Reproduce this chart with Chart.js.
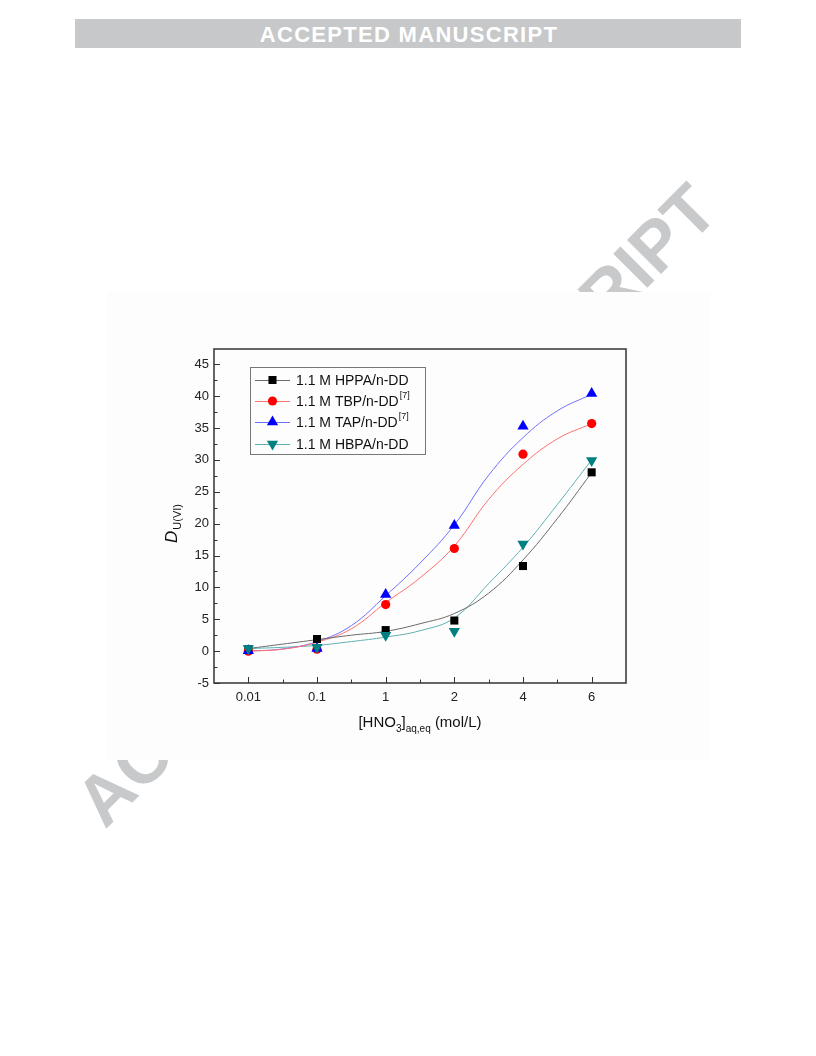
<!DOCTYPE html>
<html>
<head>
<meta charset="utf-8">
<script src="https://cdn.jsdelivr.net/npm/chart.js@4.4.1/dist/chart.umd.min.js"></script>
<style>
 body{margin:0;background:#fff;width:816px;height:1056px;position:relative;overflow:hidden;font-family:"Liberation Sans",Arial,sans-serif;}
 #page{position:absolute;left:0;top:0;}
 #box{position:absolute;left:107px;top:292px;width:603px;height:468px;background:#fdfdfd;}
</style>
</head>
<body>
<svg id="page" width="816" height="1056">
 <rect x="75" y="19" width="666" height="29" fill="#c7c8ca"/>
 <text x="409" y="42" text-anchor="middle" font-family="Liberation Sans, Arial" font-weight="bold" font-size="22" letter-spacing="1.3" fill="#fff">ACCEPTED MANUSCRIPT</text>
 <text x="105" y="830" transform="rotate(-45 105 830)" font-family="Liberation Sans, Arial" font-weight="bold" font-size="70" fill="#c8c9cb">ACCEPTED MANUSCRIPT</text>
</svg>
<div id="box"><canvas id="chart" width="603" height="468"></canvas></div>
<script>
// x categories ([HNO3] mol/L), drawn at equal spacing
var xLabels = ["0.01","0.1","1","2","4","6"];
var yTicks = [-5,0,5,10,15,20,25,30,35,40,45];

// measured D values
var hppa = [0.3,1.9,3.3,4.8,13.35,28.05];
var tbp  = [0.0,0.3,7.3,16.1,30.9,35.7];
var tap  = [0.05,0.4,8.9,19.7,35.3,40.4];
var hbpa = [0.4,0.6,2.5,3.1,16.8,29.9];

// fitted curves, every half category step
var fitPos  = [0,0.5,1,1.5,2,2.5,3,3.5,4,4.5,5];
var hppaFit = [0.4,1.1,1.8,2.5,3.1,4.3,5.9,9.1,14.3,20.8,28.0];
var tbpFit  = [0.0,0.3,1.4,3.5,7.6,11.5,16.5,23.8,29.3,33.3,35.7];
var tapFit  = [0.0,0.35,1.5,4.0,8.7,13.8,19.8,27.6,33.5,37.7,40.3];
var hbpaFit = [0.4,0.6,0.9,1.5,2.2,3.2,5.2,10.6,16.3,23.0,30.0];

var font = '"Liberation Sans", Arial, sans-serif';

var series = [
 {label:"1.1 M HPPA/n-DD", sup:"",    pts:hppa, fit:hppaFit, color:"#000000", line:"#6a6a6a", style:"rect",     r:5.7, rot:0,   order:4},
 {label:"1.1 M TBP/n-DD",  sup:"[7]", pts:tbp,  fit:tbpFit,  color:"#ff0000", line:"#ff7070", style:"circle",   r:4.6, rot:0,   order:3},
 {label:"1.1 M TAP/n-DD",  sup:"[7]", pts:tap,  fit:tapFit,  color:"#0000ff", line:"#7070ff", style:"triangle", r:6.5, rot:0,   order:2},
 {label:"1.1 M HBPA/n-DD", sup:"",    pts:hbpa, fit:hbpaFit, color:"#008080", line:"#60b0b0", style:"triangle", r:6.5, rot:180, order:1}
];

var datasets = [];
series.forEach(function(s){
 datasets.push({
  type:'line',
  data: fitPos.map(function(x,i){ return {x:x, y:s.fit[i]}; }),
  borderColor:s.line, borderWidth:1, pointRadius:0,
  tension:0.4, fill:false, order:10
 });
 datasets.push({
  type:'scatter',
  data: s.pts.map(function(y,i){ return {x:i, y:y}; }),
  pointStyle:s.style, pointRadius:s.r, pointRotation:s.rot,
  backgroundColor:s.color, borderColor:s.color, borderWidth:0,
  showLine:false, order:s.order
 });
});

// small marker for the legend
function marker(c, s, x, y){
 c.fillStyle = s.color;
 c.beginPath();
 if (s.style == 'rect'){
  var h = s.r*Math.SQRT1_2;
  c.rect(x-h, y-h, 2*h, 2*h);
 } else if (s.style == 'circle'){
  c.arc(x, y, s.r, 0, Math.PI*2);
 } else {
  var a = s.rot*Math.PI/180;
  for (var k=0;k<3;k++){
   var px = x + Math.sin(a)*s.r, py = y - Math.cos(a)*s.r;
   if (k==0) c.moveTo(px,py); else c.lineTo(px,py);
   a += Math.PI*2/3;
  }
  c.closePath();
 }
 c.fill();
}

// box frame with inward major/minor ticks
var frame = {
 id:'frame',
 afterDraw:function(chart){
  var c = chart.ctx, a = chart.chartArea, xs = chart.scales.x, ys = chart.scales.y;
  c.save();
  c.strokeStyle = '#333';
  c.lineWidth = 1.5;
  c.strokeRect(a.left, a.top, a.right-a.left, a.bottom-a.top);
  c.lineWidth = 1;
  c.beginPath();
  for (var i=0;i<xLabels.length;i++){
   var px = Math.round(xs.getPixelForValue(i))+0.5;
   c.moveTo(px, a.bottom); c.lineTo(px, a.bottom-6);
   if (i < xLabels.length-1){
    var mx = Math.round(xs.getPixelForValue(i+0.5))+0.5;
    c.moveTo(mx, a.bottom); c.lineTo(mx, a.bottom-3.5);
   }
  }
  for (var j=0;j<yTicks.length;j++){
   var py = Math.round(ys.getPixelForValue(yTicks[j]))+0.5;
   c.moveTo(a.left, py); c.lineTo(a.left+6, py);
   var my = Math.round(ys.getPixelForValue(yTicks[j]+2.5))+0.5;
   if (my > a.top) { c.moveTo(a.left, my); c.lineTo(a.left+3.5, my); }
  }
  c.stroke();
  c.restore();
 }
};

// Origin style legend: line with marker in the middle
var legendBox = {
 id:'legendBox',
 afterDraw:function(chart){
  var c = chart.ctx;
  c.save();
  c.strokeStyle = '#777';
  c.lineWidth = 1;
  c.strokeRect(143.5, 75.5, 175, 87);
  var rows = [88,109,130,152];
  series.forEach(function(s,i){
   var y = rows[i];
   c.strokeStyle = s.line;
   c.beginPath(); c.moveTo(148,y+0.5); c.lineTo(183,y+0.5); c.stroke();
   marker(c, s, 165.5, y);
   c.fillStyle = '#111';
   c.font = '14px ' + font;
   c.textBaseline = 'middle';
   c.fillText(s.label, 189, y+1);
   if (s.sup){
    var w = c.measureText(s.label).width;
    c.font = '9px ' + font;
    c.fillText(s.sup, 189+w+1, y-5);
   }
  });
  c.restore();
 }
};

// axis titles with subscripts
var titles = {
 id:'titles',
 afterDraw:function(chart){
  var c = chart.ctx;
  c.save();
  c.fillStyle = '#111';
  c.textBaseline = 'alphabetic';
  var parts = [["[HNO",15,0],["3",10,5],["]",15,0],["aq,eq",10,5],[" (mol/L)",15,0]];
  var total = 0;
  parts.forEach(function(p){ c.font = p[1]+'px '+font; total += c.measureText(p[0]).width; });
  var x = 313 - total/2;
  parts.forEach(function(p){
   c.font = p[1]+'px '+font;
   c.fillText(p[0], x, 435+p[2]);
   x += c.measureText(p[0]).width;
  });
  c.translate(70, 251);
  c.rotate(-Math.PI/2);
  c.font = 'italic 17px ' + font;
  c.fillText('D', 0, 0);
  var dw = c.measureText('D').width;
  c.font = '11px ' + font;
  c.fillText('U(VI)', dw+1, 4);
  c.restore();
 }
};

new Chart(document.getElementById('chart'), {
 type:'scatter',
 data:{datasets:datasets},
 options:{
  responsive:false,
  animation:false,
  layout:{padding:{top:57,right:84,left:0,bottom:0}},
  plugins:{legend:{display:false}, tooltip:{enabled:false}},
  scales:{
   x:{
    type:'linear', min:-0.5, max:5.5,
    afterBuildTicks:function(s){ s.ticks = xLabels.map(function(l,i){ return {value:i}; }); },
    afterFit:function(s){ s.height = 77; },
    grid:{display:false, drawTicks:false},
    border:{display:false},
    ticks:{padding:7, color:'#222', font:{size:13, family:font}, callback:function(v){ return xLabels[v]; }}
   },
   y:{
    min:-5, max:47.4,
    afterBuildTicks:function(s){ s.ticks = yTicks.map(function(v){ return {value:v}; }); },
    afterFit:function(s){ s.width = 107; },
    grid:{display:false, drawTicks:false},
    border:{display:false},
    ticks:{padding:5, color:'#222', font:{size:13, family:font}}
   }
  }
 },
 plugins:[frame, legendBox, titles]
});
</script>
</body>
</html>
